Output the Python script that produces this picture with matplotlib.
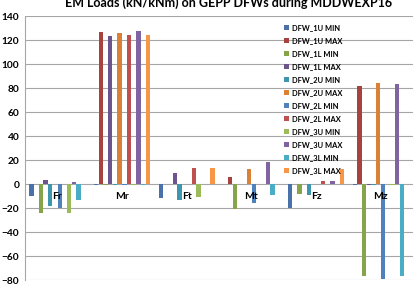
import numpy as np
import matplotlib
matplotlib.use('Agg')
import matplotlib.pyplot as plt

categories = ['Fr', 'Mr', 'Ft', 'Mt', 'Fz', 'Mz']
series_names = ['DFW_1U MIN', 'DFW_1U MAX', 'DFW_1L MIN', 'DFW_1L MAX',
                'DFW_2U MIN', 'DFW_2U MAX', 'DFW_2L MIN', 'DFW_2L MAX',
                'DFW_3U MIN', 'DFW_3U MAX', 'DFW_3L MIN', 'DFW_3L MAX']

# values per series, in category order Fr, Mr, Ft, Mt, Fz, Mz
dfw_1u_min = [-10, -0.5, -12, 0, -20, -1]
dfw_1u_max = [0.3, 126.5, 0.3, 5.5, 0.3, 82]
dfw_1l_min = [-24.5, -1, 0, -21, -8.5, -76.5]
dfw_1l_max = [3, 123.5, 9.5, 0.3, 0.3, -0.5]
dfw_2u_min = [-18, -0.5, -13, 0, -9, -1]
dfw_2u_max = [0.3, 126, 0.3, 12.5, 0.3, 84]
dfw_2l_min = [-20, -1, 0, -16, 0, -79.5]
dfw_2l_max = [0.3, 124, 13, 0.3, 2.5, 0.3]
dfw_3u_min = [-24.5, -0.5, -10.5, 0, 0, -1]
dfw_3u_max = [1.5, 127.5, 0.3, 18.5, 2.5, 83]
dfw_3l_min = [-13, -1, 0, -9.5, 0, -76.5]
dfw_3l_max = [0.3, 124.5, 13, 0.3, 12.5, 0.3]

all_series = [dfw_1u_min, dfw_1u_max, dfw_1l_min, dfw_1l_max, dfw_2u_min, dfw_2u_max,
              dfw_2l_min, dfw_2l_max, dfw_3u_min, dfw_3u_max, dfw_3l_min, dfw_3l_max]

colors = ['#4A72A8', '#A8423F', '#86A44A', '#6E548D', '#3D96AE', '#DA8137',
          '#4F81BD', '#C0504D', '#9BBB59', '#8064A2', '#4BACC6', '#F79646']

plt.rcParams['font.family'] = ['Lato', 'DejaVu Sans']

fig = plt.figure(figsize=(4.17, 2.87), dpi=100)
ax = fig.add_axes([25 / 417, 1 - 280 / 287, 388 / 417, 264 / 287])

x = np.arange(len(categories))
w = 0.0727
for i, (vals, col, name) in enumerate(zip(all_series, colors, series_names)):
    ax.bar(x + (i - 5.5) * w, vals, width=w * 0.92, color=col, label=name, zorder=3)

ax.set_xlim(-0.5, 5.5)
ax.set_ylim(-80, 140)
ax.set_yticks(np.arange(-80, 141, 20))
ax.yaxis.grid(True, color='#A6A6A6', linewidth=0.8, zorder=0)
ax.set_xticks([])
for s in ['top', 'right', 'bottom']:
    ax.spines[s].set_visible(False)
ax.spines['left'].set_color('#A6A6A6')
ax.tick_params(axis='y', length=0, pad=4, labelsize=7.3)
for lab in ax.get_yticklabels():
    lab.set_fontweight('bold')

for i, c in enumerate(categories):
    ax.text(i, -7, c, ha='center', va='top', fontsize=7.5, fontweight='bold', zorder=4)

fig.text(229 / 417, 1 - 3 / 287, 'EM Loads (kN/kNm) on GEPP DFWs during MDDWEXP16',
         ha='center', va='center', fontsize=9, fontweight='bold')

leg = ax.legend(loc='upper left', bbox_to_anchor=(284 / 417, 1 - 24 / 287),
                bbox_transform=fig.transFigure, frameon=False,
                prop={'weight': 'bold', 'size': 5.4}, handlelength=0.6, handleheight=0.6,
                handletextpad=0.5, labelspacing=0.8, borderpad=0, borderaxespad=0)

fig.savefig('out.png', dpi=100)
